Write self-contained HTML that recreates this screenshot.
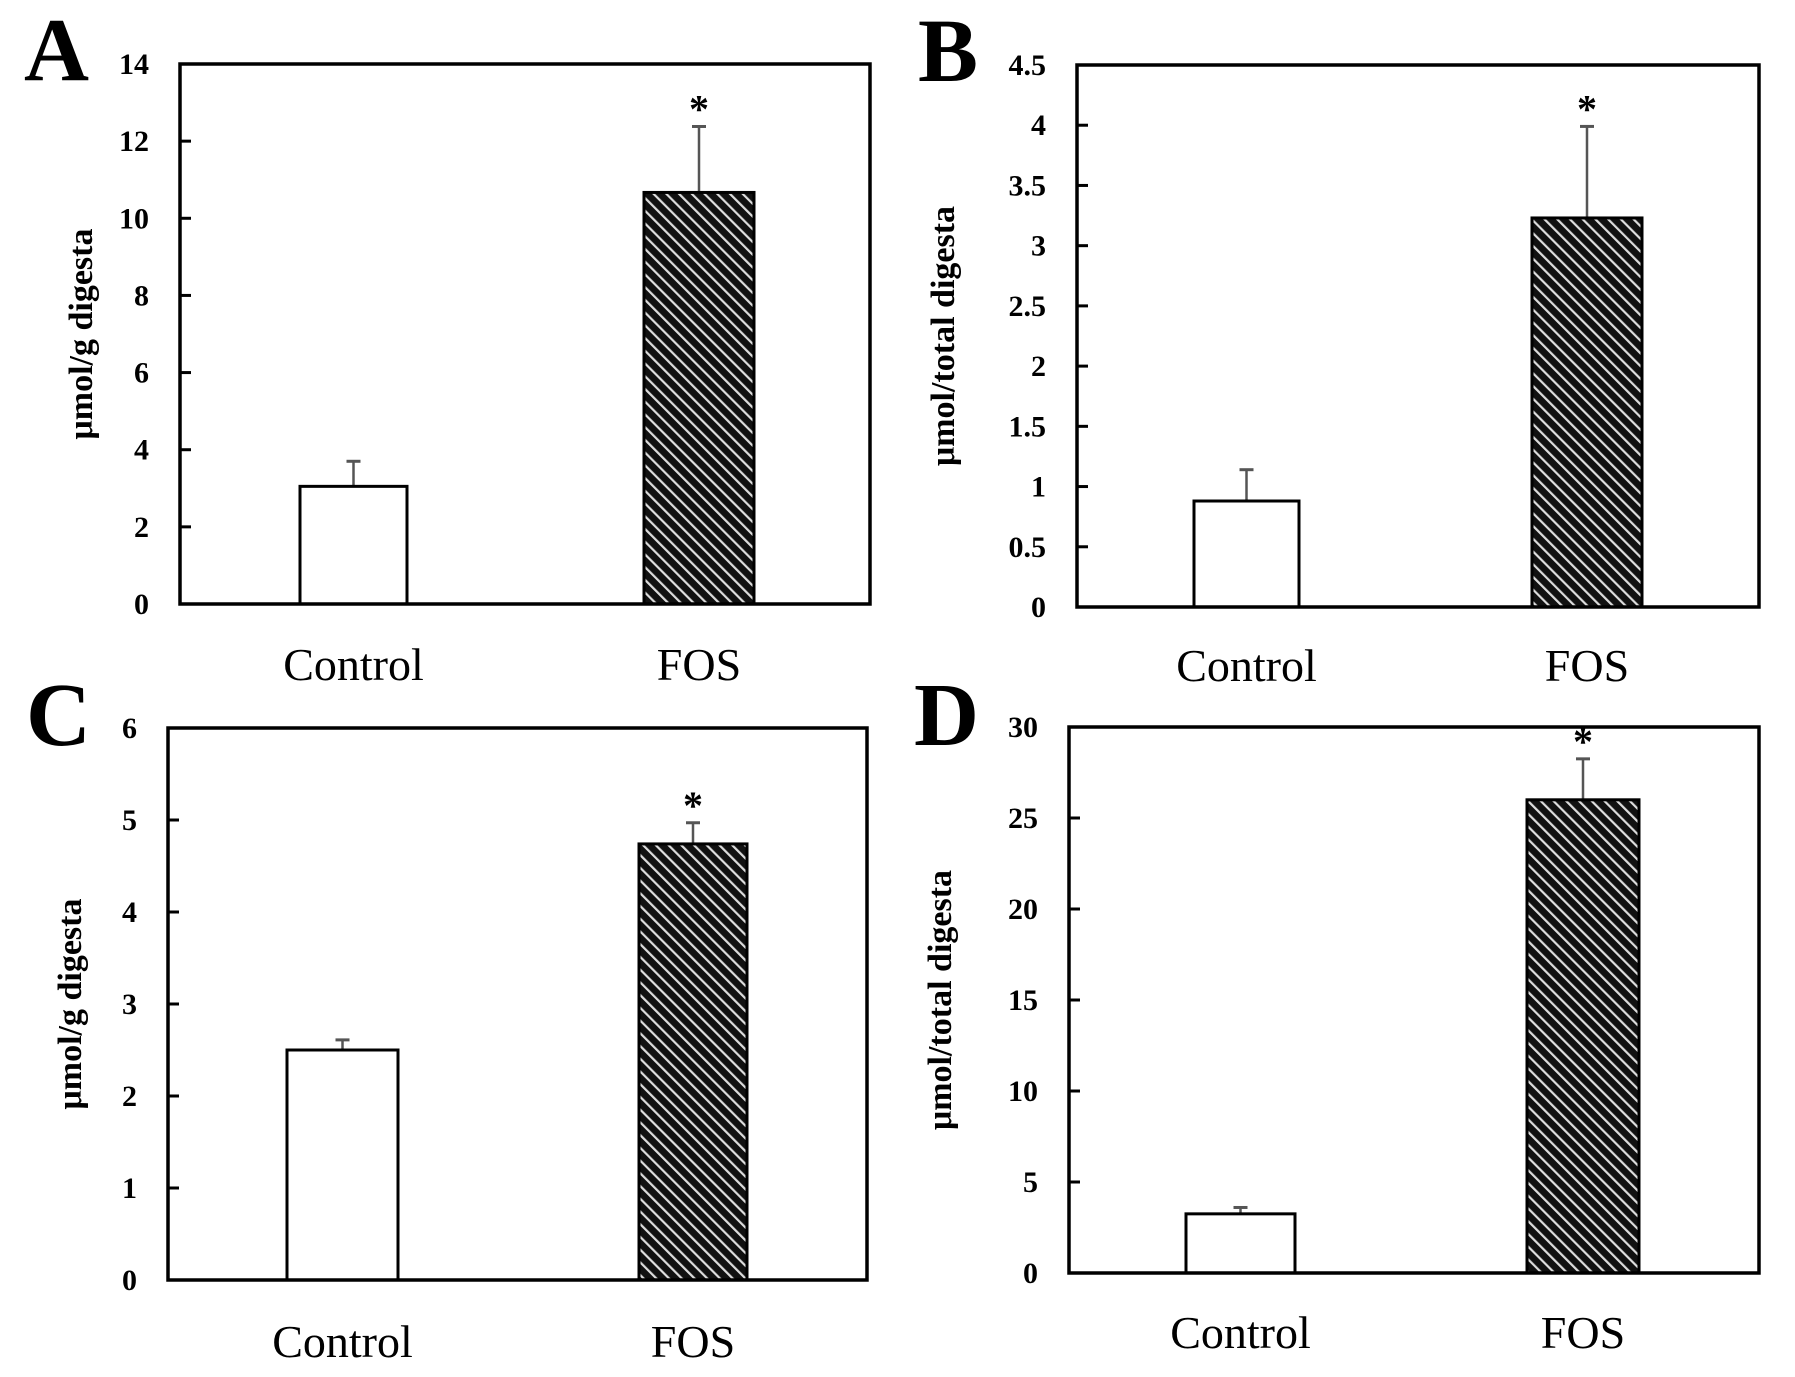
<!DOCTYPE html>
<html><head><meta charset="utf-8"><style>
html,body{margin:0;padding:0;background:#fff;}
svg{display:block;}
text{font-family:"Liberation Serif",serif;fill:#000;}
</style></head><body>
<svg id="fig" width="1795" height="1377" viewBox="0 0 1795 1377" xmlns="http://www.w3.org/2000/svg">
<defs>
<pattern id="hatch" patternUnits="userSpaceOnUse" width="9" height="9" patternTransform="rotate(-45)">
<rect width="9" height="9" fill="#111"/>
<rect x="0" y="0" width="2.2" height="9" fill="#ddd"/>
</pattern>
</defs>
</svg>
<script>
const categories = ["Control", "FOS"];
const panelLetters = ["A", "B", "C", "D"];
const yTitles = ["μmol/g digesta", "μmol/total digesta", "μmol/g digesta", "μmol/total digesta"];
const valuesA = [3.05, 10.67];
const errorsA = [3.7, 12.38];
const ticksA = ["0","2","4","6","8","10","12","14"];
const tickValsA = [0,2,4,6,8,10,12,14];
const valuesB = [0.88, 3.23];
const errorsB = [1.14, 3.99];
const ticksB = ["0","0.5","1","1.5","2","2.5","3","3.5","4","4.5"];
const tickValsB = [0,0.5,1,1.5,2,2.5,3,3.5,4,4.5];
const valuesC = [2.5, 4.74];
const errorsC = [2.61, 4.97];
const ticksC = ["0","1","2","3","4","5","6"];
const tickValsC = [0,1,2,3,4,5,6];
const valuesD = [3.25, 26.0];
const errorsD = [3.6, 28.25];
const ticksD = ["0","5","10","15","20","25","30"];
const tickValsD = [0,5,10,15,20,25,30];
const significant = [false, true];

const NS = "http://www.w3.org/2000/svg";
const svg = document.getElementById("fig");
function mk(tag, attrs, parent){
  const e = document.createElementNS(NS, tag);
  for (const k in attrs) e.setAttribute(k, attrs[k]);
  (parent||svg).appendChild(e);
  return e;
}
const layout = [
  {x0:180,x1:870,y0:64,y1:604,bars:[[300,407],[644,754]],lx:24,ly:80,tx:81,cy:680,vals:valuesA,errs:errorsA,ticks:ticksA,tv:tickValsA},
  {x0:1077,x1:1759,y0:65,y1:607,bars:[[1194,1299],[1532,1642]],lx:918,ly:81,tx:943,cy:681,vals:valuesB,errs:errorsB,ticks:ticksB,tv:tickValsB},
  {x0:168,x1:867,y0:728,y1:1280,bars:[[287,398],[639,747]],lx:26,ly:745,tx:70,cy:1357,vals:valuesC,errs:errorsC,ticks:ticksC,tv:tickValsC},
  {x0:1069,x1:1759,y0:727,y1:1273,bars:[[1186,1295],[1527,1639]],lx:914,ly:745,tx:940,cy:1348,vals:valuesD,errs:errorsD,ticks:ticksD,tv:tickValsD}
];
layout.forEach((p, i) => {
  const g = mk("g", {});
  
  
  const max = p.tv[p.tv.length-1];
  const yScale = v => p.y1 - (v/max)*(p.y1-p.y0);
  const L = mk("text", {x:p.lx, y:p.ly, "font-size":90, "font-weight":"bold"}, g);
  L.textContent = panelLetters[i];
  
  
  p.tv.forEach((tv, k) => {
    const y = yScale(tv);
    if (k>0 && k<p.tv.length-1){
      const t = mk("line", {x1:p.x0, x2:p.x0+11, y1:y, y2:y, stroke:"#000","stroke-width":3}, g);
      
      
    }
    const lab = mk("text", {x:p.x0-31, y:y+10, "font-size":30, "font-weight":"bold", "text-anchor":"end"}, g);
    lab.textContent = p.ticks[k];
    
    
  });
  const yc = (p.y0+p.y1)/2;
  const T = mk("text", {x:p.tx, y:yc, "font-size":34, "font-weight":"bold", "text-anchor":"middle", transform:`rotate(-90 ${p.tx} ${yc})`, dy:11}, g);
  T.textContent = yTitles[i];
  
  
  categories.forEach((c, j) => {
    const [bx0, bx1] = p.bars[j];
    const yt = yScale(p.vals[j]);
    const ye = yScale(p.errs[j]);
    const cx = (bx0+bx1)/2;
    const eb = mk("line", {x1:cx, x2:cx, y1:yt, y2:ye, stroke:"#555","stroke-width":2.5}, g);
    
    
    const cap = mk("line", {x1:cx-7, x2:cx+7, y1:ye, y2:ye, stroke:"#555","stroke-width":3}, g);
    
    
    const b = mk("rect", {x:bx0, y:yt, width:bx1-bx0, height:p.y1-yt, fill: j===1 ? "url(#hatch)" : "#fff", stroke:"#000","stroke-width":3}, g);
    
    
    if (significant[j]){
      const s = mk("text", {x:cx, y:ye-4, "font-size":40, "font-weight":"bold", "text-anchor":"middle"}, g);
      s.textContent = "*";
      
      
    }
    const cl = mk("text", {x:cx, y:p.cy, "font-size":46, "text-anchor":"middle"}, g);
    cl.textContent = c;
    
    
  });
  const f = mk("rect", {x:p.x0, y:p.y0, width:p.x1-p.x0, height:p.y1-p.y0, fill:"none", stroke:"#000","stroke-width":3.5}, g);
  
  
});
</script>
</body></html>
